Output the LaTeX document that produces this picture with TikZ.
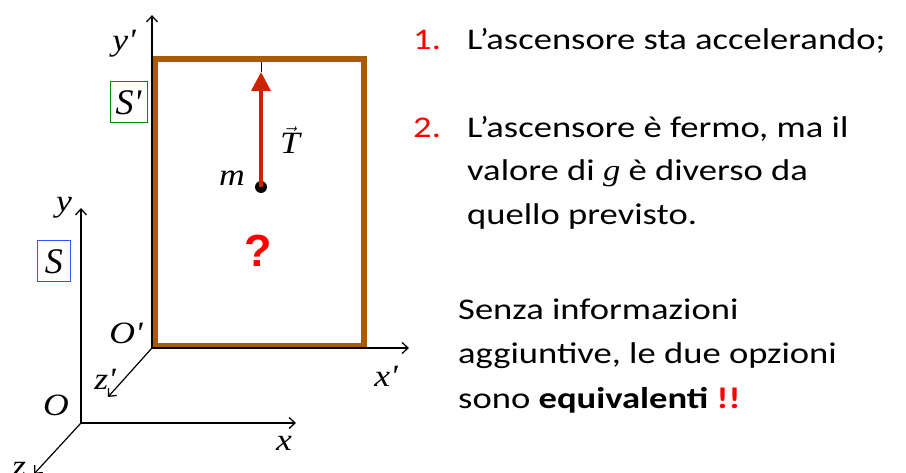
\documentclass[tikz,border=0pt]{standalone}
\usepackage{fontspec}
\setmainfont{Carlito}
\newfontfamily\bodyfont[FakeStretch=1.22]{Carlito}
\newfontfamily\tms{Liberation Serif}
\newfontfamily\tmsw[FakeStretch=1.15]{Liberation Serif}
\newfontfamily\arl{Liberation Sans}
\usetikzlibrary{arrows.meta}
\definecolor{boxbrown}{RGB}{170,90,0}
\definecolor{tred}{RGB}{204,34,0}
\definecolor{numred}{RGB}{255,0,0}
\definecolor{sgreen}{RGB}{0,140,0}
\definecolor{sblue}{RGB}{40,90,255}
\tikzset{
  axis/.style={line width=1.2pt, -{Straight Barb[length=6pt,width=11pt,line width=1.3pt]}},
  lbl/.style={inner sep=0pt, font=\tmsw\itshape\fontsize{31}{31}\selectfont},
  frame/.style={draw, line width=1pt, minimum width=37pt, minimum height=41pt, inner sep=0pt, font=\tms\itshape\fontsize{36}{36}\selectfont},
  txt/.style={anchor=base west, inner sep=0pt, font=\bodyfont\fontsize{30}{36}\selectfont},
  num/.style={txt, text=numred}
}
\begin{document}
\begin{tikzpicture}[x=1pt,y=-1pt]
\path[use as bounding box] (0,0) rectangle (906,473);
% elevator box
\draw[boxbrown, line width=5.5pt] (155.5,59) rectangle (364,345.5);
% coordinates
\coordinate (Op) at (152,348);
\coordinate (O) at (81,423);
\coordinate (ypend) at (152,15);
\coordinate (xpend) at (409,348);
\coordinate (zpend) at (108,397);
\coordinate (yend) at (81,208);
\coordinate (xend) at (296,423);
\coordinate (zend) at (34,474);
\draw[axis] (Op) -- (ypend);
\draw[axis] (Op) -- (xpend);
\draw[axis] (Op) -- (zpend);
\draw[axis] (O) -- (yend);
\draw[axis] (O) -- (xend);
\draw[axis] (O) -- (zend);
% labels
\node[lbl] (lyp) at (124,44) {y{\char"27}};
\node[lbl] (lxp) at (386,376) {x{\char"27}};
\node[lbl] (lzp) at (105,379) {z{\char"27}};
\node[lbl] (lOp) at (126,333) {O{\char"27}};
\node[lbl] (ly) at (64,208) {y};
\node[lbl] (lx) at (284,443) {x};
\node[lbl] (lz) at (19,469) {z};
\node[lbl] (lO) at (56,405) {O};
\node[frame, sgreen] (Sp) at (128.5,102.5) {\textcolor{black}{S{\char"27}}};
\node[frame, sblue, minimum width=33pt] (S) at (54,261.5) {\textcolor{black}{S}};
% tension
\node[circle, fill=black, minimum size=12pt, inner sep=0pt] (m) at (261,187) {};
\coordinate (Ttip) at (261,72);
\coordinate (Ttop) at (261,62);
\draw[line width=0.8pt] (Ttop) -- (Ttip);
\draw[tred, line width=3.5pt, -{Triangle[length=19pt,width=19pt]}] (m.center) -- (Ttip);
\node[lbl] (lm) at (232,178) {m};
\node[lbl] (lT) at (290,140) {$\vec{\mbox{\tmsw\itshape T}}$};
\node[inner sep=0pt, text=numred, font=\arl\bfseries\fontsize{45}{45}\selectfont] (q) at (258,251) {?};
% text
\node[num] (n1) at (413,50) {1.};
\node[txt] (t1) at (467,50) {L’ascensore sta accelerando;};
\node[num] (n2) at (413,138) {2.};
\node[txt] (t2) at (467,138) {L’ascensore è fermo, ma il};
\node[txt] (t3) at (467,181) {valore di {\tmsw\itshape g} è diverso da};
\node[txt] (t4) at (467,225) {quello previsto.};
\node[txt] (p1) at (458,320) {Senza informazioni};
\node[txt] (p2) at (458,363) {aggiuntive, le due opzioni};
\node[txt] (p3) at (458,408) {sono \textbf{equivalenti} \textcolor{numred}{\textbf{!!}}};
\end{tikzpicture}
\end{document}
